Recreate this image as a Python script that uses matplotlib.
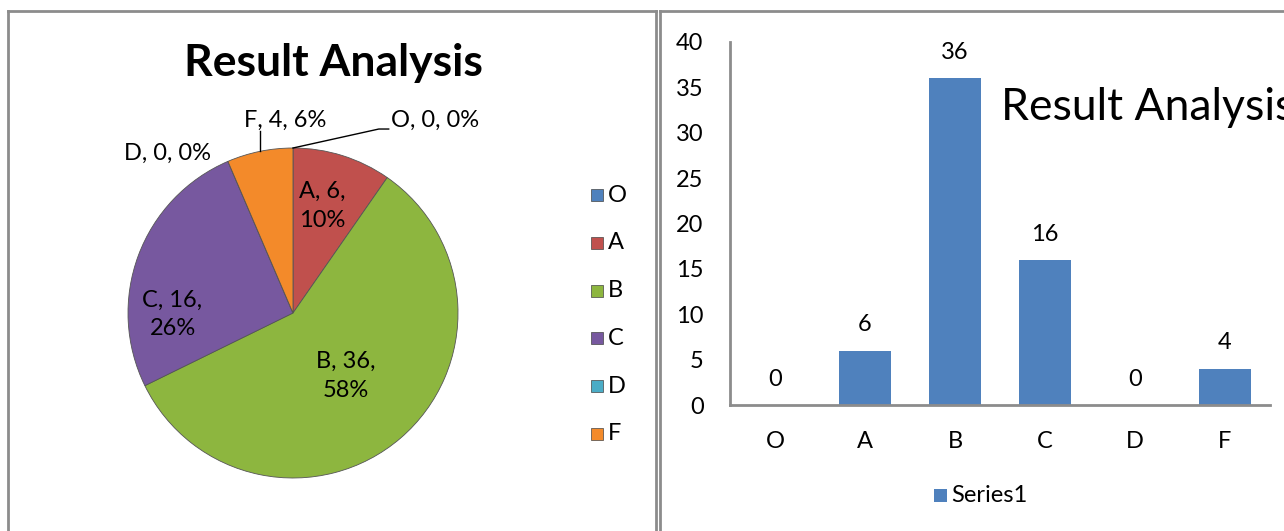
import numpy as np
import matplotlib.pyplot as plt
from matplotlib.patches import Rectangle
from matplotlib.lines import Line2D

grades = ['O', 'A', 'B', 'C', 'D', 'F']
counts = [0, 6, 36, 16, 0, 4]
colors = ['#4F81BD', '#C0504D', '#8DB63F', '#77589F', '#4BACC6', '#F38A2A']
bar_color = '#4F81BD'
yticks = [0, 5, 10, 15, 20, 25, 30, 35, 40]

plt.rcParams['font.family'] = ['Lato', 'DejaVu Sans']
FS = 17

W, H = 1284, 531
fig = plt.figure(figsize=(W / 100, H / 100), dpi=100)


def fx(px):
    return px / W


def fy(py):
    return 1 - py / H


# panel borders
border = '#8c8c8c'
for x0, x1 in [(8, 656), (660, 1290)]:
    fig.add_artist(Line2D([fx(x0), fx(x0)], [fy(11), fy(540)], color=border, lw=2))
    fig.add_artist(Line2D([fx(x0), fx(x1)], [fy(11), fy(11)], color=border, lw=2))
fig.add_artist(Line2D([fx(656), fx(656)], [fy(11), fy(540)], color=border, lw=2))

# ---- pie ----
cx, cy, r = 293, 313, 165
axp = fig.add_axes([fx(cx - r), fy(cy + r), r * 2 / W, r * 2 / H])
wedges, _ = axp.pie(counts, colors=colors, startangle=90, counterclock=False,
                    wedgeprops=dict(edgecolor='#555555', linewidth=0.6))
axp.set_aspect('auto')
axp.set_xlim(-1, 1)
axp.set_ylim(-1, 1)

total = sum(counts)
pct = [round(100 * c / total) for c in counts]
# label offsets in pie units (layout only)
inside = {'A': (0.18, 0.65), 'B': (0.32, -0.38), 'C': (-0.73, -0.01)}
outside = {'O': (0.86, 1.17), 'D': (-0.76, 0.97), 'F': (-0.05, 1.17)}
for g, c, p in zip(grades, counts, pct):
    if g in inside:
        x, y = inside[g]
        axp.text(x, y, f'{g}, {c},\n{p}%', ha='center', va='center', fontsize=FS,
                 linespacing=1.45)
    else:
        x, y = outside[g]
        axp.text(x, y, f'{g}, {c}, {p}%', ha='center', va='center', fontsize=FS,
                 clip_on=False)
# leader lines
axp.plot([-0.2, -0.2], [0.98, 1.1], color='black', lw=1, clip_on=False)
axp.plot([0, 0.52, 0.58], [1.0, 1.115, 1.115], color='black', lw=1, clip_on=False)

fig.text(fx(333), fy(63), 'Result Analysis', ha='center', va='center',
         fontsize=32, fontweight='bold')

# pie legend
for i, (g, col) in enumerate(zip(grades, colors)):
    y = 195 + i * 47.8
    fig.add_artist(Rectangle((fx(591), fy(y + 6)), 12 / W, 12 / H, facecolor=col,
                             edgecolor='#444444', lw=0.5))
    fig.text(fx(608), fy(y), g, ha='left', va='center', fontsize=FS)

# ---- bars ----
axb = fig.add_axes([fx(730), fy(405), fx(1270) - fx(730), (405 - 42) / H])
x = np.arange(len(grades))
bars = axb.bar(x, counts, width=0.57, color=bar_color)
axb.set_xlim(-0.5, len(grades) - 0.5)
axb.set_ylim(0, 40)
axb.set_yticks(yticks)
axb.set_xticks(x)
axb.set_xticklabels(grades)
axb.tick_params(length=0, labelsize=FS, pad=19)
for lbl in axb.get_yticklabels():
    lbl.set_horizontalalignment('right')
for s in ['top', 'right']:
    axb.spines[s].set_visible(False)
for s in ['left', 'bottom']:
    axb.spines[s].set_color('#8c8c8c')
    axb.spines[s].set_linewidth(2)
for xi, c in zip(x, counts):
    axb.annotate(str(c), (xi, c), xytext=(0, 11), textcoords='offset points',
                 ha='center', va='bottom', fontsize=FS)

fig.text(fx(1001), fy(108), 'Result Analysis', ha='left', va='center', fontsize=32)

fig.add_artist(Rectangle((fx(934), fy(502)), 13 / W, 13 / H, facecolor=bar_color,
                         edgecolor='none'))
fig.text(fx(951), fy(495), 'Series1', ha='left', va='center', fontsize=FS)

fig.savefig('out.png', dpi=100)
